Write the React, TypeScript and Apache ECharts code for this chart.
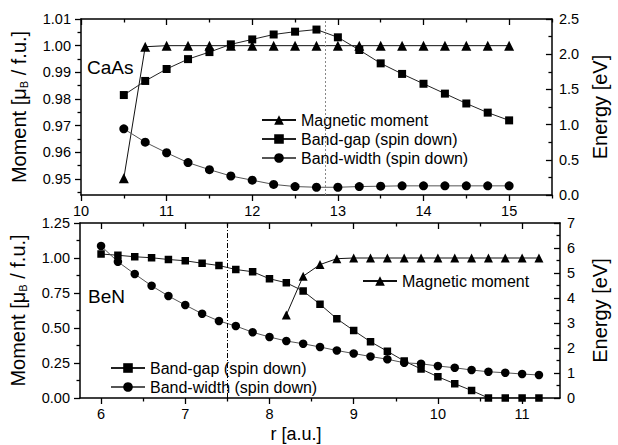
import React, { useEffect, useRef } from "react";
import * as echarts from "echarts";

// ---------- data ----------
const rTop = [10.5, 10.75, 11, 11.25, 11.5, 11.75, 12, 12.25, 12.5, 12.75, 13, 13.25, 13.5, 13.75, 14, 14.25, 14.5, 14.75, 15];
const momentTop = [0.9503, 0.9996, 1, 1, 1, 1, 1, 1, 1, 1, 1, 1, 1, 1, 1, 1, 1, 1, 1];
const gapTop = [1.42, 1.62, 1.79, 1.93, 2.03, 2.14, 2.21, 2.28, 2.32, 2.35, 2.24, 2.06, 1.87, 1.72, 1.58, 1.44, 1.3, 1.17, 1.06];
const widthTop = [0.94, 0.75, 0.6, 0.46, 0.36, 0.27, 0.21, 0.15, 0.12, 0.11, 0.11, 0.12, 0.125, 0.13, 0.13, 0.13, 0.13, 0.13, 0.13];

const rBot = [6.0, 6.2, 6.4, 6.6, 6.8, 7.0, 7.2, 7.4, 7.6, 7.8, 8.0, 8.2, 8.4, 8.6, 8.8, 9.0, 9.2, 9.4, 9.6, 9.8, 10.0, 10.2, 10.4, 10.6, 10.8, 11.0, 11.2];
const gapBot = [5.76, 5.71, 5.65, 5.61, 5.54, 5.49, 5.39, 5.3, 5.14, 5.05, 4.77, 4.61, 4.28, 3.75, 3.17, 2.7, 2.25, 1.87, 1.48, 1.16, 0.85, 0.57, 0.3, 0, 0, 0, 0];
const widthBot = [6.08, 5.45, 4.96, 4.49, 4.08, 3.72, 3.37, 3.08, 2.88, 2.63, 2.44, 2.28, 2.17, 2.04, 1.9, 1.78, 1.66, 1.55, 1.41, 1.37, 1.28, 1.21, 1.12, 1.05, 1.01, 0.96, 0.92];
const rMomentBot = [8.2, 8.4, 8.6, 8.8, 9.0, 9.2, 9.4, 9.6, 9.8, 10.0, 10.2, 10.4, 10.6, 10.8, 11.0, 11.2];
const momentBot = [0.593, 0.87, 0.953, 0.995, 1, 1, 1, 1, 1, 1, 1, 1, 1, 1, 1, 1];

const markTop = 12.85;
const markBot = 7.5;

// tick values
const xTopMajor = [10, 11, 12, 13, 14, 15];
const xTopMinor = [10.5, 11.5, 12.5, 13.5, 14.5, 15.5];
const yTopLeftMajor = [0.95, 0.96, 0.97, 0.98, 0.99, 1.0, 1.01];
const yTopLeftMinor = [0.945, 0.955, 0.965, 0.975, 0.985, 0.995, 1.005];
const yTopRightMajor = [0, 0.5, 1, 1.5, 2, 2.5];
const yTopRightMinor = [0.25, 0.75, 1.25, 1.75, 2.25];
const xBotMajor = [6, 7, 8, 9, 10, 11];
const xBotMinor = [6.5, 7.5, 8.5, 9.5, 10.5];
const yBotLeftMajor = [0, 0.25, 0.5, 0.75, 1, 1.25];
const yBotLeftMinor = [0.125, 0.375, 0.625, 0.875, 1.125];
const yBotRightMajor = [0, 1, 2, 3, 4, 5, 6, 7];
const yBotRightMinor = [0.5, 1.5, 2.5, 3.5, 4.5, 5.5, 6.5];

const NAME_MM = "Magnetic moment";
const NAME_GAP = "Band-gap (spin down)";
const NAME_BW = "Band-width (spin down)";

const FONT = "'Liberation Sans', Arial, Helvetica, sans-serif";

type AxisOpts = {
  gridIndex: number;
  min: number;
  max: number;
  position: string;
  ticks: number[];
  inside: boolean;
  minor?: boolean;
  showLine?: boolean;
  labels?: number[];
  fmt?: (v: number) => string;
  margin?: number;
  extra?: any;
};

function axis(o: AxisOpts) {
  return {
    type: "value",
    gridIndex: o.gridIndex,
    min: o.min,
    max: o.max,
    position: o.position,
    axisLine: { show: o.showLine !== false && !o.minor, onZero: false, lineStyle: { color: "#000", width: 1.5 } },
    axisTick: {
      show: true,
      inside: o.inside,
      length: o.minor ? 3.5 : 6,
      customValues: o.ticks,
      lineStyle: { color: "#000", width: 1.3 },
    },
    axisLabel: o.labels
      ? {
          show: true,
          customValues: o.labels,
          formatter: o.fmt,
          margin: o.margin ?? 8,
          color: "#000",
          fontSize: 14.5,
          fontFamily: FONT,
        }
      : { show: false },
    splitLine: { show: false },
    minorTick: { show: false },
    ...(o.extra || {}),
  };
}

const nameStyle = {
  fontSize: 20,
  fontFamily: FONT,
  color: "#000",
  rich: {
    b: { fontSize: 11, fontFamily: FONT, color: "#000", verticalAlign: "bottom" },
  },
};

export default function App() {
  const ref = useRef<HTMLDivElement>(null);

  useEffect(() => {
    if (!ref.current) return;
    const chart = echarts.init(ref.current, undefined, { renderer: "svg" });

    const xAxis = [
      axis({ gridIndex: 0, min: 10, max: 15.5, position: "bottom", ticks: xTopMajor, inside: false, labels: xTopMajor, fmt: (v) => String(v), margin: 8 }),
      axis({ gridIndex: 0, min: 10, max: 15.5, position: "bottom", ticks: xTopMinor, inside: false, minor: true }),
      axis({ gridIndex: 0, min: 10, max: 15.5, position: "top", ticks: xTopMajor, inside: true }),
      axis({ gridIndex: 0, min: 10, max: 15.5, position: "top", ticks: xTopMinor, inside: true, minor: true }),
      axis({
        gridIndex: 1, min: 5.75, max: 11.45, position: "bottom", ticks: xBotMajor, inside: false, labels: xBotMajor, fmt: (v) => String(v), margin: 8,
        extra: {
          name: "r [a.u.]",
          nameLocation: "middle",
          nameGap: 27,
          nameTextStyle: { fontSize: 18, fontFamily: FONT, color: "#000", padding: [0, 48, 0, 0] },
        },
      }),
      axis({ gridIndex: 1, min: 5.75, max: 11.45, position: "bottom", ticks: xBotMinor, inside: false, minor: true }),
      axis({ gridIndex: 1, min: 5.75, max: 11.45, position: "top", ticks: xBotMajor, inside: true }),
      axis({ gridIndex: 1, min: 5.75, max: 11.45, position: "top", ticks: xBotMinor, inside: true, minor: true }),
    ];

    const yAxis = [
      axis({
        gridIndex: 0, min: 0.944, max: 1.01, position: "left", ticks: yTopLeftMajor, inside: false, labels: yTopLeftMajor, fmt: (v) => v.toFixed(2), margin: 10,
        extra: { name: "Moment [μ{b|B} / f.u.]", nameLocation: "middle", nameRotate: 90, nameGap: 52, nameTextStyle: nameStyle },
      }),
      axis({ gridIndex: 0, min: 0.944, max: 1.01, position: "left", ticks: yTopLeftMinor, inside: false, minor: true }),
      axis({
        gridIndex: 0, min: 0, max: 2.5, position: "right", ticks: yTopRightMajor, inside: true, labels: yTopRightMajor, fmt: (v) => v.toFixed(1), margin: 7,
        extra: { name: "Energy [eV]", nameLocation: "middle", nameRotate: 90, nameGap: 30, nameTextStyle: nameStyle },
      }),
      axis({ gridIndex: 0, min: 0, max: 2.5, position: "right", ticks: yTopRightMinor, inside: true, minor: true }),
      axis({
        gridIndex: 1, min: 0, max: 1.25, position: "left", ticks: yBotLeftMajor, inside: false, labels: yBotLeftMajor, fmt: (v) => v.toFixed(2), margin: 10,
        extra: { name: "Moment [μ{b|B} / f.u.]", nameLocation: "middle", nameRotate: 90, nameGap: 52, nameTextStyle: nameStyle },
      }),
      axis({ gridIndex: 1, min: 0, max: 1.25, position: "left", ticks: yBotLeftMinor, inside: false, minor: true }),
      axis({
        gridIndex: 1, min: 0, max: 7, position: "right", ticks: yBotRightMajor, inside: true, labels: yBotRightMajor, fmt: (v) => String(v), margin: 7,
        extra: { name: "Energy [eV]", nameLocation: "middle", nameRotate: 90, nameGap: 30, nameTextStyle: nameStyle },
      }),
      axis({ gridIndex: 1, min: 0, max: 7, position: "right", ticks: yBotRightMinor, inside: true, minor: true }),
    ];

    const pairs = (xs: number[], ys: number[]) => xs.map((x, i) => [x, ys[i]]);

    const lineSeries = (
      name: string,
      data: number[][],
      xIdx: number,
      yIdx: number,
      symbol: string,
      size: number,
      lineColor: string,
      extra: any = {}
    ) => ({
      type: "line",
      name,
      data,
      xAxisIndex: xIdx,
      yAxisIndex: yIdx,
      symbol,
      symbolSize: size,
      showSymbol: true,
      itemStyle: { color: "#000" },
      lineStyle: { color: lineColor, width: 1 },
      silent: true,
      z: 3,
      ...extra,
    });

    const legendCommon = {
      orient: "vertical",
      itemWidth: 34,
      itemHeight: 12,
      itemGap: 3,
      padding: 0,
      selectedMode: false,
      textStyle: { fontSize: 16, fontFamily: FONT, color: "#000", lineHeight: 13 },
    };

    const option: any = {
      animation: false,
      backgroundColor: "#fff",
      grid: [
        { left: 81, width: 483, top: 19, height: 176 },
        { left: 79, width: 485, top: 223, height: 175 },
      ],
      xAxis,
      yAxis,
      legend: [
        { ...legendCommon, data: [NAME_MM, NAME_GAP, NAME_BW], left: 261, top: 112 },
        { ...legendCommon, data: [NAME_MM], left: 362, top: 273 },
        { ...legendCommon, data: [NAME_GAP, NAME_BW], left: 110, top: 360 },
      ],
      graphic: [
        { type: "text", left: 87, top: 58, style: { text: "CaAs", fontSize: 19, fontFamily: FONT, fill: "#000" } },
        { type: "text", left: 88, top: 287, style: { text: "BeN", fontSize: 19, fontFamily: FONT, fill: "#000" } },
      ],
      series: [
        lineSeries(NAME_MM, pairs(rTop, momentTop), 0, 0, "triangle", 10, "#111"),
        lineSeries(NAME_GAP, pairs(rTop, gapTop), 0, 2, "rect", 8, "#222", {
          markLine: {
            silent: true,
            symbol: ["none", "none"],
            label: { show: false },
            lineStyle: { color: "#888", type: [2, 2], width: 1 },
            data: [{ xAxis: markTop }],
          },
        }),
        lineSeries(NAME_BW, pairs(rTop, widthTop), 0, 2, "circle", 9, "#555"),
        lineSeries(NAME_MM, pairs(rMomentBot, momentBot), 4, 4, "triangle", 9, "#111"),
        lineSeries(NAME_GAP, pairs(rBot, gapBot), 4, 6, "rect", 7.5, "#222", {
          markLine: {
            silent: true,
            symbol: ["none", "none"],
            label: { show: false },
            lineStyle: { color: "#000", type: [5, 2, 1, 2], width: 1 },
            data: [{ xAxis: markBot }],
          },
        }),
        lineSeries(NAME_BW, pairs(rBot, widthBot), 4, 6, "circle", 8.5, "#555"),
      ],
    };

    chart.setOption(option);
    return () => chart.dispose();
  }, []);

  return (
    <div
      ref={ref}
      style={{ position: "fixed", left: 0, top: 0, width: 618, height: 445, background: "#fff" }}
    />
  );
}
